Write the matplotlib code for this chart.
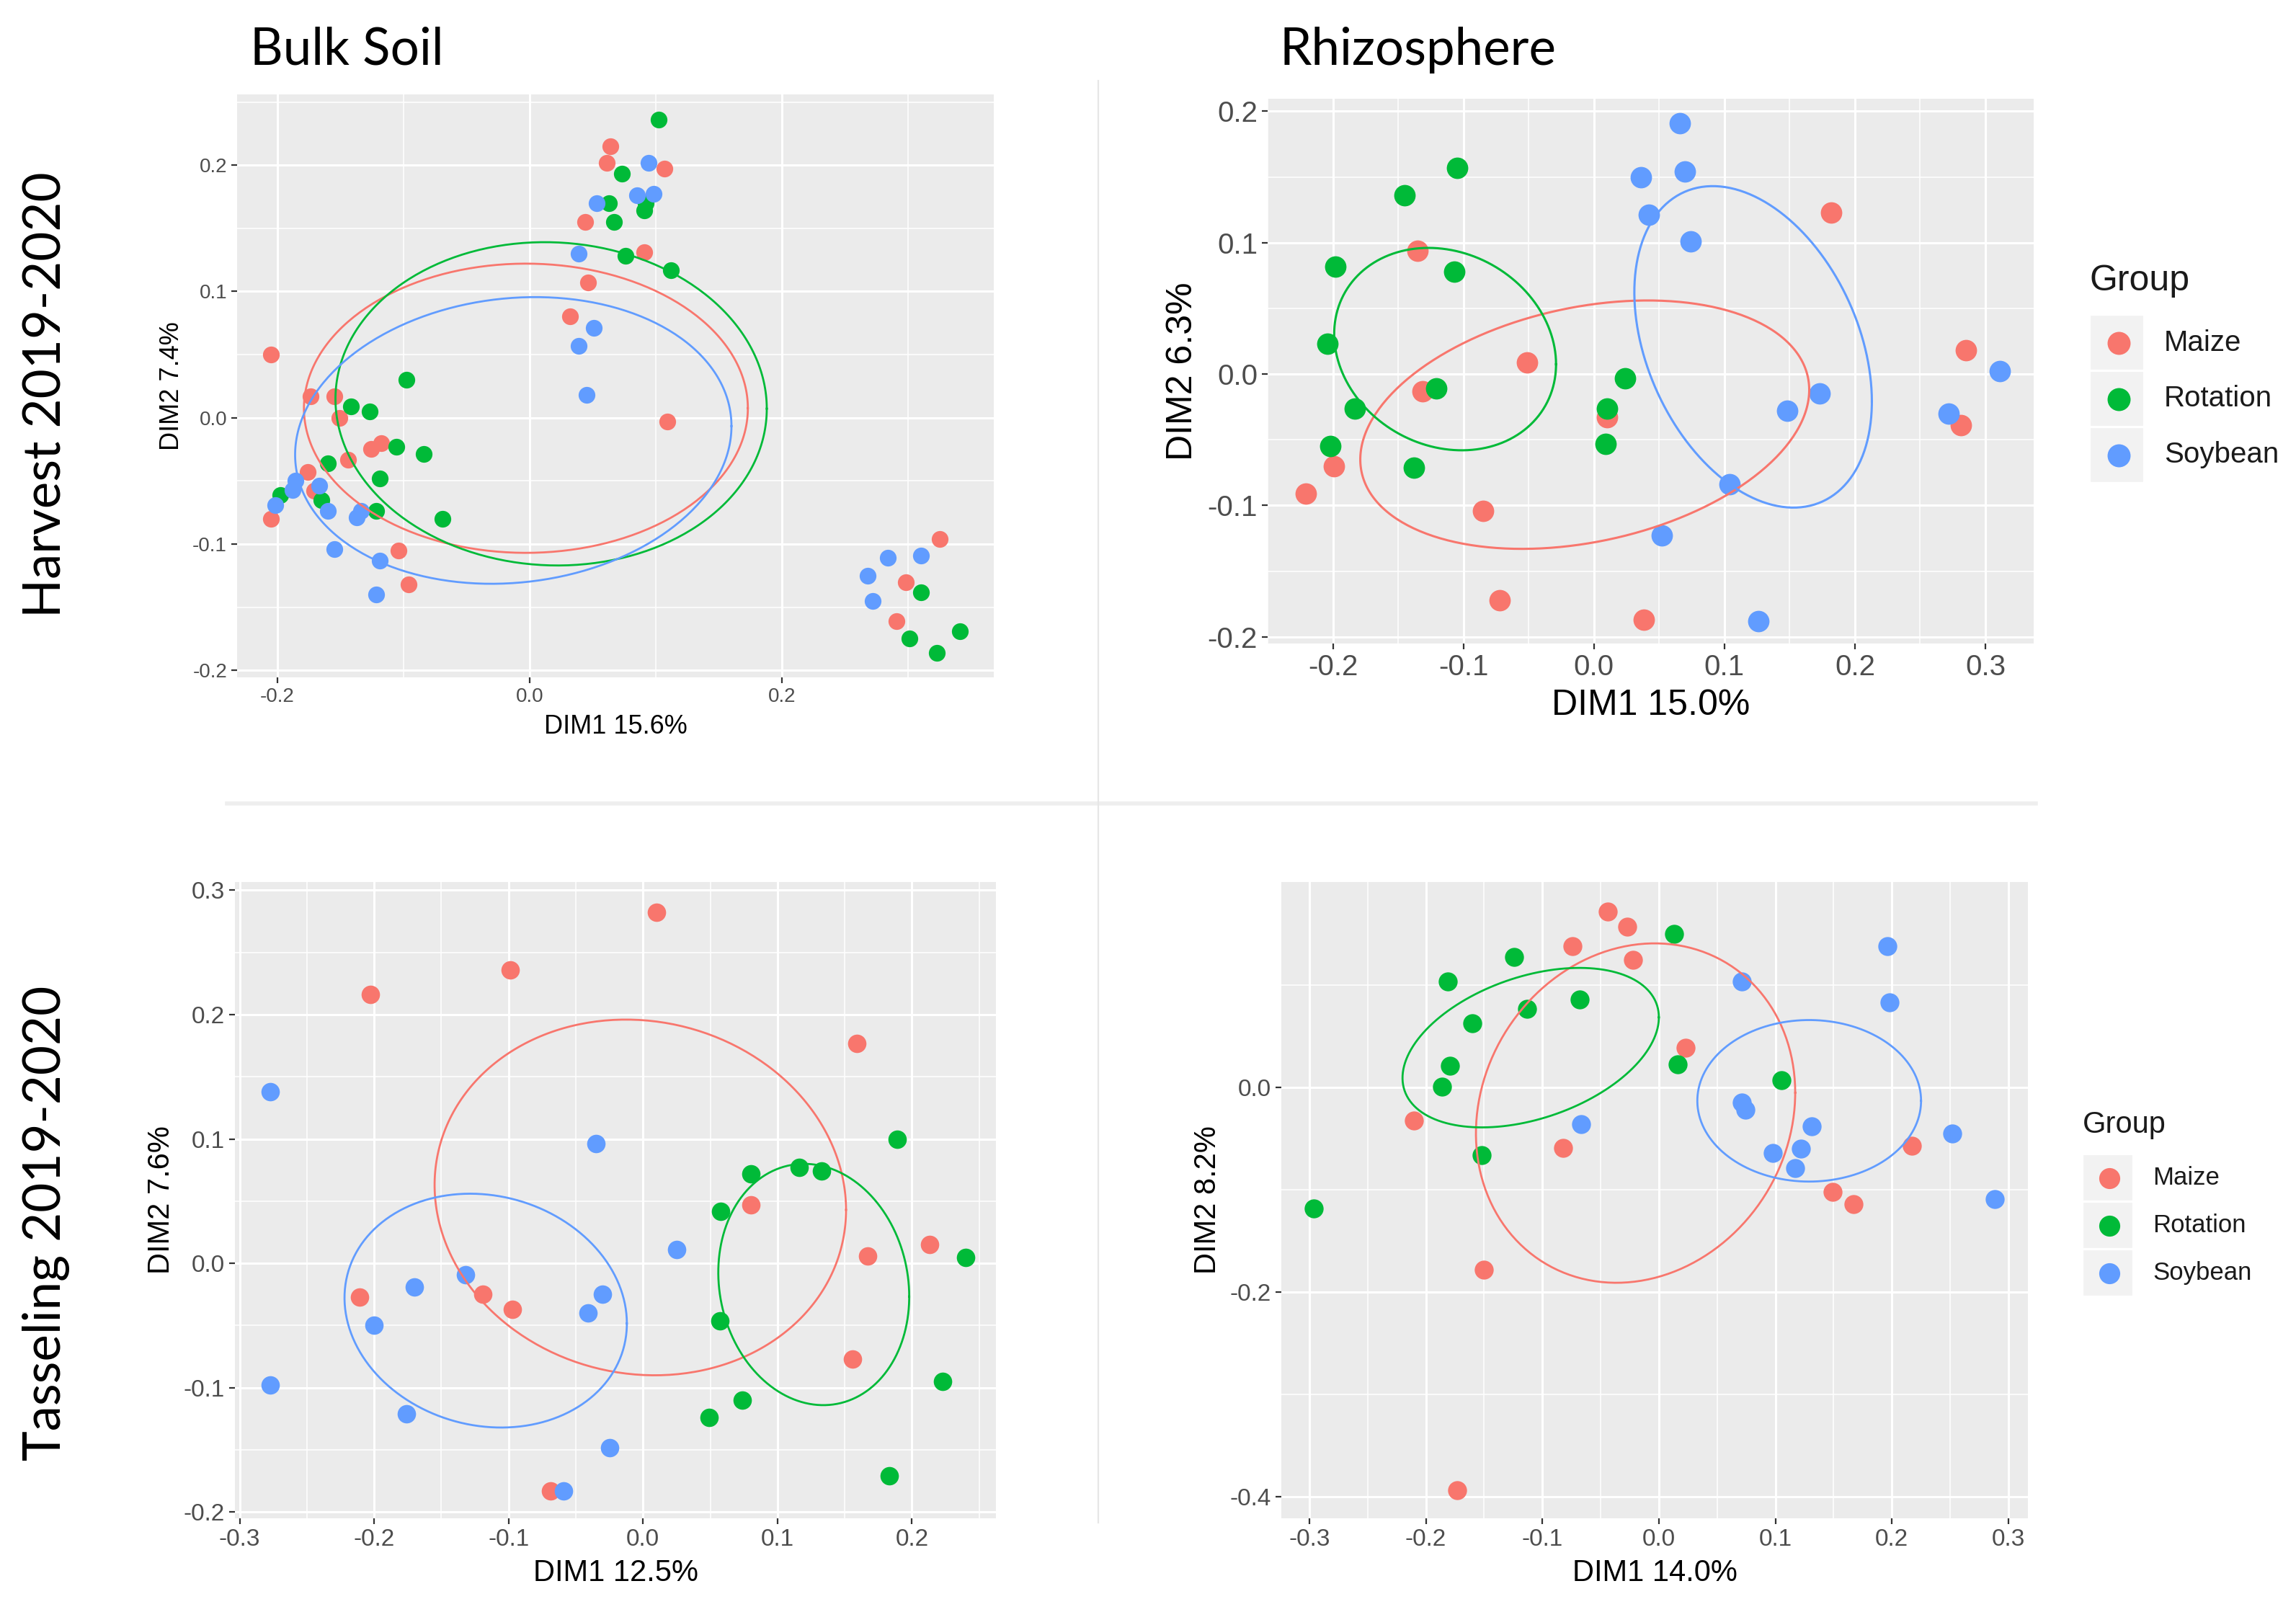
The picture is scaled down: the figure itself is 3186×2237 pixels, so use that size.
import numpy as np
import matplotlib
matplotlib.use('Agg')
import matplotlib.pyplot as plt
from matplotlib.lines import Line2D
from matplotlib.patches import Rectangle

plt.rcParams['font.family'] = ['Liberation Sans', 'DejaVu Sans']
plt.rcParams['axes.unicode_minus'] = False

groups = ['Maize', 'Rotation', 'Soybean']
colors = ['#F8766D', '#00BA38', '#619CFF']

# ---- Harvest, bulk soil ----
hb_maize_x = [0.064, 0.061, 0.107, 0.044, 0.091, 0.046, 0.032, 0.109, -0.205, -0.174, -0.155, -0.151,
              -0.126, -0.118, -0.144, -0.176, -0.171, -0.205, -0.104, -0.096, 0.325, 0.298, 0.291]
hb_maize_y = [0.215, 0.202, 0.197, 0.155, 0.131, 0.107, 0.080, -0.003, 0.050, 0.017, 0.017, 0.000,
              -0.025, -0.020, -0.033, -0.043, -0.058, -0.080, -0.105, -0.132, -0.096, -0.130, -0.161]
hb_rot_x = [0.102, 0.073, 0.063, 0.092, 0.091, 0.067, 0.076, 0.112, -0.098, -0.142, -0.127, -0.106,
            -0.084, -0.160, -0.119, -0.165, -0.198, -0.122, -0.069, 0.310, 0.301, 0.323, 0.341]
hb_rot_y = [0.236, 0.193, 0.170, 0.170, 0.164, 0.155, 0.128, 0.117, 0.030, 0.009, 0.005, -0.023,
            -0.029, -0.036, -0.048, -0.065, -0.061, -0.074, -0.080, -0.138, -0.175, -0.186, -0.169]
hb_soy_x = [0.094, 0.085, 0.098, 0.053, 0.039, 0.051, 0.039, 0.045, -0.186, -0.188, -0.202, -0.167,
            -0.160, -0.134, -0.137, -0.155, -0.119, -0.122, 0.268, 0.284, 0.310, 0.272]
hb_soy_y = [0.202, 0.176, 0.177, 0.170, 0.130, 0.071, 0.057, 0.018, -0.050, -0.057, -0.069, -0.054,
            -0.074, -0.074, -0.079, -0.104, -0.113, -0.140, -0.125, -0.111, -0.109, -0.145]
# ellipses (Maize, Rotation, Soybean): centre, half extents, tilt
hb_ell_cx = [-0.003, 0.017, -0.013]
hb_ell_cy = [0.0075, 0.011, -0.018]
hb_ell_sx = [0.176, 0.171, 0.173]
hb_ell_sy = [0.1145, 0.128, 0.1135]
hb_ell_rho = [0.0, -0.03, 0.10]

# ---- Harvest, rhizosphere ----
hr_maize_x = [0.182, -0.135, -0.051, -0.131, 0.010, -0.199, -0.221, -0.085, -0.072, 0.038, 0.285, 0.281]
hr_maize_y = [0.123, 0.094, 0.009, -0.013, -0.033, -0.070, -0.091, -0.104, -0.172, -0.187, 0.018, -0.039]
hr_rot_x = [-0.105, -0.145, -0.198, -0.107, -0.204, -0.121, -0.183, -0.202, -0.138, 0.024, 0.010, 0.009]
hr_rot_y = [0.157, 0.136, 0.082, 0.078, 0.023, -0.011, -0.026, -0.055, -0.071, -0.003, -0.026, -0.053]
hr_soy_x = [0.066, 0.036, 0.070, 0.042, 0.074, 0.173, 0.148, 0.104, 0.052, 0.126, 0.311, 0.272]
hr_soy_y = [0.191, 0.150, 0.154, 0.121, 0.101, -0.015, -0.028, -0.084, -0.123, -0.188, 0.002, -0.030]
hr_ell_cx = [-0.007, -0.114, 0.122]
hr_ell_cy = [-0.0385, 0.019, 0.0207]
hr_ell_sx = [0.172, 0.085, 0.091]
hr_ell_sy = [0.0945, 0.077, 0.1223]
hr_ell_rho = [0.28, -0.15, -0.34]

# ---- Tasseling, bulk soil ----
tb_maize_x = [0.010, -0.099, -0.203, 0.159, 0.080, 0.213, 0.167, -0.211, -0.119, -0.097, 0.156, -0.069]
tb_maize_y = [0.282, 0.236, 0.216, 0.177, 0.047, 0.015, 0.006, -0.027, -0.025, -0.037, -0.077, -0.183]
tb_rot_x = [0.189, 0.080, 0.116, 0.133, 0.058, 0.240, 0.057, 0.223, 0.074, 0.049, 0.183]
tb_rot_y = [0.100, 0.072, 0.077, 0.074, 0.042, 0.005, -0.046, -0.095, -0.110, -0.124, -0.171]
tb_soy_x = [-0.277, -0.035, 0.025, -0.132, -0.170, -0.030, -0.041, -0.200, -0.277, -0.176, -0.025, -0.059]
tb_soy_y = [0.138, 0.096, 0.011, -0.009, -0.019, -0.025, -0.040, -0.050, -0.098, -0.121, -0.148, -0.183]
tb_ell_cx = [-0.002, 0.127, -0.117]
tb_ell_cy = [0.053, -0.017, -0.038]
tb_ell_sx = [0.153, 0.071, 0.105]
tb_ell_sy = [0.143, 0.097, 0.094]
tb_ell_rho = [-0.07, -0.10, -0.11]

# ---- Tasseling, rhizosphere ----
tr_maize_x = [-0.044, -0.027, -0.074, -0.022, 0.023, -0.210, -0.082, 0.217, 0.149, 0.167, -0.150, -0.173]
tr_maize_y = [0.172, 0.157, 0.138, 0.125, 0.039, -0.032, -0.059, -0.057, -0.102, -0.114, -0.178, -0.394]
tr_rot_x = [0.013, -0.124, -0.181, -0.068, -0.113, -0.160, 0.016, -0.179, -0.186, 0.105, -0.152, -0.296]
tr_rot_y = [0.150, 0.128, 0.104, 0.086, 0.077, 0.063, 0.023, 0.021, 0.001, 0.007, -0.066, -0.118]
tr_soy_x = [0.196, 0.071, 0.198, -0.067, 0.071, 0.074, 0.131, 0.252, 0.098, 0.122, 0.117, 0.288]
tr_soy_y = [0.138, 0.104, 0.083, -0.036, -0.015, -0.022, -0.038, -0.045, -0.064, -0.060, -0.079, -0.109]
tr_ell_cx = [-0.020, -0.110, 0.129]
tr_ell_cy = [-0.025, 0.039, -0.013]
tr_ell_sx = [0.137, 0.110, 0.096]
tr_ell_sy = [0.166, 0.078, 0.079]
tr_ell_rho = [0.12, 0.38, 0.0]

W, H = 3186, 2237
fig = plt.figure(figsize=(W / 200, H / 200), dpi=200)


def px(x0, y0, x1, y1):
    # pixel box (top-left origin) -> figure rect
    return [x0 / W, 1 - y1 / H, (x1 - x0) / W, (y1 - y0) / H]


def panel(rect, xs, ys, ell, xlim, ylim, xmaj, xmin, ymaj, ymin, xlabel, ylabel,
          tick_fs, lab_fs, size, lw):
    ax = fig.add_axes(rect)
    ax.set_facecolor('#EBEBEB')
    for sp in ax.spines.values():
        sp.set_visible(False)
    for x, y, c in zip(xs, ys, colors):
        ax.scatter(x, y, s=size, color=c, linewidths=0, zorder=3)
    t = np.linspace(0, 2 * np.pi, 300)
    for i, c in enumerate(colors):
        cx, cy, sx, sy, rho = [e[i] for e in ell]
        ex = cx + sx * np.cos(t)
        ey = cy + sy * (rho * np.cos(t) + np.sqrt(1 - rho ** 2) * np.sin(t))
        ax.plot(ex, ey, color=c, lw=lw, zorder=4)
    ax.set_xlim(xlim)
    ax.set_ylim(ylim)
    ax.set_xticks(xmaj)
    ax.set_xticklabels(['%.1f' % v for v in xmaj])
    ax.set_yticks(ymaj)
    ax.set_yticklabels(['%.1f' % v for v in ymaj])
    ax.set_xticks(xmin, minor=True)
    ax.set_yticks(ymin, minor=True)
    ax.grid(True, which='major', color='white', lw=1.1, zorder=0)
    ax.grid(True, which='minor', color='white', lw=0.55, zorder=0)
    ax.set_axisbelow(True)
    ax.tick_params(which='major', length=3, width=0.8, color='#333333',
                   labelsize=tick_fs, labelcolor='#4D4D4D', pad=2)
    ax.tick_params(which='minor', length=0)
    ax.set_xlabel(xlabel, fontsize=lab_fs, color='black', labelpad=4)
    ax.set_ylabel(ylabel, fontsize=lab_fs, color='black', labelpad=4)
    return ax


def legend(x0, y_title, box_w, row_tops, row_h, dot_x, text_x, title_fs, lab_fs, dot_ms):
    fig.text(x0 / W, 1 - y_title / H, 'Group', fontsize=title_fs, color='#1A1A1A',
             ha='left', va='baseline')
    for i, (g, c) in enumerate(zip(groups, colors)):
        top = row_tops[i]
        fig.add_artist(Rectangle((x0 / W, 1 - (top + row_h) / H), box_w / W, row_h / H,
                                 transform=fig.transFigure, facecolor='#F2F2F2',
                                 edgecolor='white', lw=0.8))
        yc = top + row_h / 2
        fig.add_artist(Line2D([dot_x / W], [1 - yc / H], marker='o', ms=dot_ms, color=c,
                              markeredgewidth=0, transform=fig.transFigure))
        fig.text(text_x / W, 1 - yc / H, g, fontsize=lab_fs, color='#1A1A1A',
                 ha='left', va='center')


r = np.round
panel(px(329, 131, 1379, 940),
      [hb_maize_x, hb_rot_x, hb_soy_x], [hb_maize_y, hb_rot_y, hb_soy_y],
      [hb_ell_cx, hb_ell_cy, hb_ell_sx, hb_ell_sy, hb_ell_rho],
      (-0.232, 0.368), (-0.2056, 0.256),
      [-0.2, 0.0, 0.2], [-0.1, 0.1, 0.3],
      r(np.arange(-0.2, 0.21, 0.1), 2), r(np.arange(-0.15, 0.26, 0.1), 3),
      'DIM1 15.6%', 'DIM2 7.4%', 10, 13, 70, 1.0)

panel(px(1759, 137, 2822, 893),
      [hr_maize_x, hr_rot_x, hr_soy_x], [hr_maize_y, hr_rot_y, hr_soy_y],
      [hr_ell_cx, hr_ell_cy, hr_ell_sx, hr_ell_sy, hr_ell_rho],
      (-0.248, 0.337), (-0.205, 0.2095),
      r(np.arange(-0.2, 0.31, 0.1), 2), r(np.arange(-0.25, 0.31, 0.1), 3),
      r(np.arange(-0.2, 0.21, 0.1), 2), r(np.arange(-0.15, 0.16, 0.1), 3),
      'DIM1 15.0%', 'DIM2 6.3%', 14.5, 18, 115, 1.1)

panel(px(326, 1224, 1382, 2107),
      [tb_maize_x, tb_rot_x, tb_soy_x], [tb_maize_y, tb_rot_y, tb_soy_y],
      [tb_ell_cx, tb_ell_cy, tb_ell_sx, tb_ell_sy, tb_ell_rho],
      (-0.3035, 0.2625), (-0.205, 0.3066),
      r(np.arange(-0.3, 0.21, 0.1), 2), r(np.arange(-0.25, 0.26, 0.1), 3),
      r(np.arange(-0.2, 0.31, 0.1), 2), r(np.arange(-0.15, 0.26, 0.1), 3),
      'DIM1 12.5%', 'DIM2 7.6%', 12, 15, 85, 1.0)

panel(px(1778, 1224, 2814, 2107),
      [tr_maize_x, tr_rot_x, tr_soy_x], [tr_maize_y, tr_rot_y, tr_soy_y],
      [tr_ell_cx, tr_ell_cy, tr_ell_sx, tr_ell_sy, tr_ell_rho],
      (-0.324, 0.3167), (-0.4214, 0.201),
      r(np.arange(-0.3, 0.31, 0.1), 2), r(np.arange(-0.25, 0.26, 0.1), 3),
      [-0.4, -0.2, 0.0], [-0.3, -0.1, 0.1],
      'DIM1 14.0%', 'DIM2 8.2%', 12, 15, 90, 1.0)

legend(2900, 403, 75, [437, 515, 593], 77, 2940, 3003, 18, 14.5, 11.5)
legend(2890, 1572, 70, [1602, 1668, 1734], 65, 2927, 2987, 15, 12.5, 10.5)

# column / row headings
hfont = ['Lato', 'DejaVu Sans']
fig.text(347 / W, 1 - 90 / H, 'Bulk Soil', fontsize=25.5, family=hfont, ha='left', va='baseline')
fig.text(1775 / W, 1 - 90 / H, 'Rhizosphere', fontsize=25.5, family=hfont, ha='left', va='baseline')
fig.text(64 / W, 1 - 548 / H, 'Harvest 2019-2020', fontsize=25.5, family=hfont,
         rotation=90, ha='center', va='center')
fig.text(64 / W, 1 - 1697 / H, 'Tasseling 2019-2020', fontsize=25.5, family=hfont,
         rotation=90, ha='center', va='center')

# separators
fig.add_artist(Line2D([315 / W, 2825 / W], [1 - 1115 / H, 1 - 1115 / H], color='#EEEEEE',
                      lw=2, transform=fig.transFigure))
fig.add_artist(Line2D([1524 / W, 1524 / W], [1 - 112 / H, 1 - 2113 / H], color='#E6E6E6',
                      lw=0.8, transform=fig.transFigure))

fig.savefig('out.png', dpi=200, facecolor='white')
